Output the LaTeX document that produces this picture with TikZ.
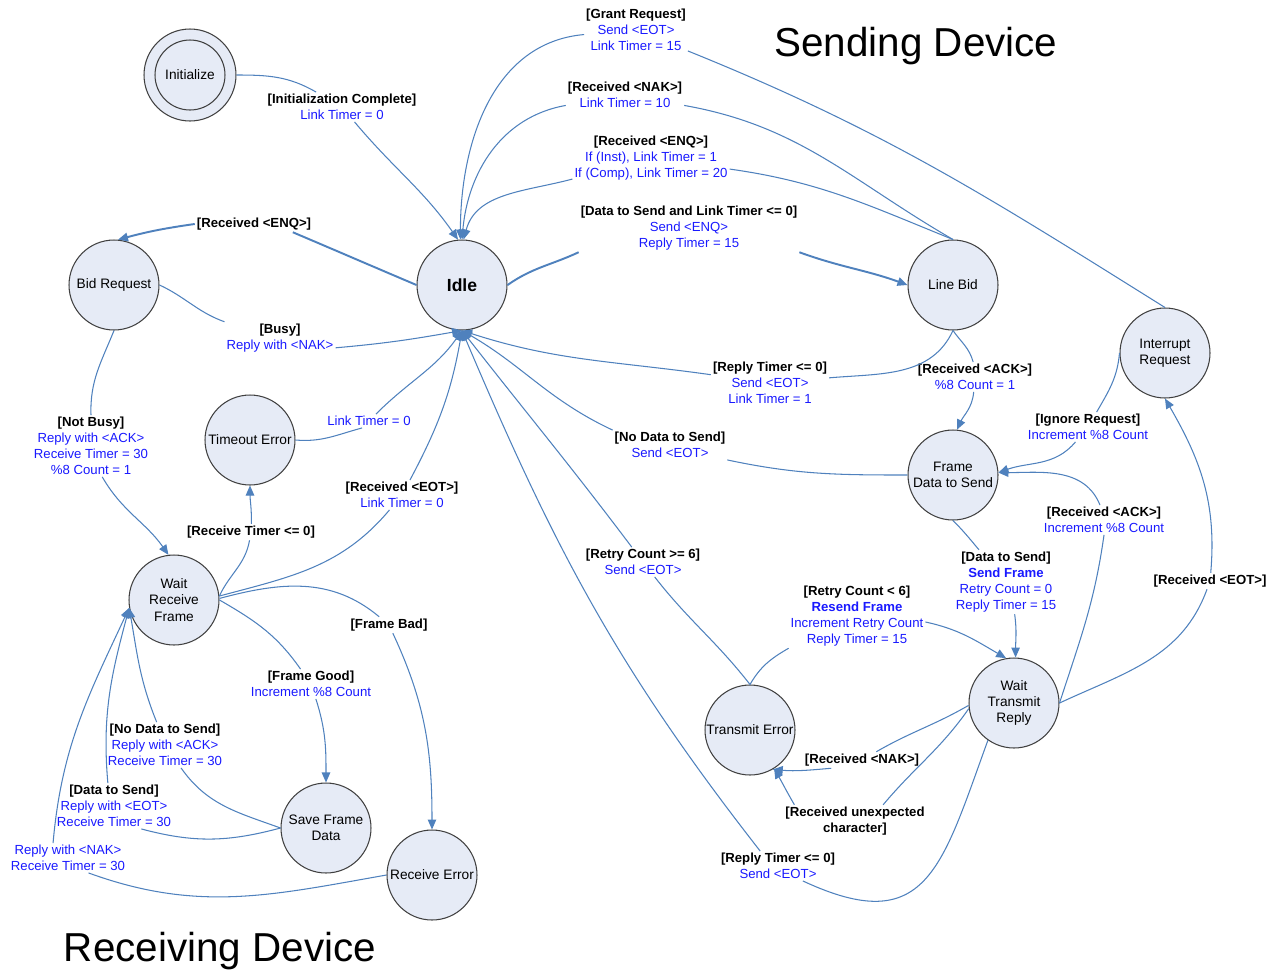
\documentclass[tikz,border=0pt]{standalone}
\usepackage{fontspec}
\setmainfont{Liberation Sans}
\usetikzlibrary{arrows.meta}
\definecolor{edgeblue}{RGB}{79,129,189}
\definecolor{actblue}{RGB}{25,25,255}
\definecolor{statefill}{RGB}{230,235,246}
\newcommand{\trg}[1]{\textbf{#1}}
\newcommand{\act}[1]{\textcolor{actblue}{#1}}
\begin{document}
\begin{tikzpicture}[x=0.02cm,y=0.02cm,
 state/.style={circle,draw=black!75,fill=statefill,line width=0.6pt,minimum size=1.8cm,inner sep=0pt,align=center,font=\fontsize{7.8}{9.3}\selectfont},
 lbl/.style={align=center,inner sep=1pt,font=\fontsize{7.5}{9.1}\selectfont},
 conn/.style={draw=edgeblue,line width=0.6pt},
 arr/.style={conn,-{Triangle[length=2mm,width=1.7mm]}},
 heavy/.style={line width=1.1pt}]
\useasboundingbox (0,0) rectangle (1281,-971);
\node[font=\fontsize{23}{26}\selectfont] (tSend) at (916,-46) {Sending Device};
\node[font=\fontsize{23}{26}\selectfont] (tRecv) at (220,-951) {Receiving Device};
\node[state,minimum size=1.84cm] (init) at (190,-75) {Initialize};
\draw[draw=black!75,line width=0.6pt] (init.center) circle (0.7cm);
\node[state,font=\fontsize{10}{12}\selectfont\bfseries] (idle) at (462,-285) {Idle};
\node[state] (bid) at (114,-285) {Bid Request};
\node[state] (linebid) at (953,-285) {Line Bid};
\node[state] (intr) at (1165,-353) {Interrupt\\Request};
\node[state] (fds) at (953,-475) {Frame\\Data to Send};
\node[state] (tmo) at (250,-440) {Timeout Error};
\node[state] (wrf) at (174,-600) {Wait\\Receive\\Frame};
\node[state] (sfd) at (326,-828) {Save Frame\\Data};
\node[state] (rerr) at (432,-875) {Receive Error};
\node[state] (terr) at (750,-730) {Transmit Error};
\node[state] (wtr) at (1014,-703) {Wait\\Transmit\\Reply};
\node[lbl] (lInit) at (342,-107) {\trg{[Initialization Complete]}\\\act{Link Timer = 0}};
\node[lbl] (lGrant) at (636,-30) {\trg{[Grant Request]}\\\act{Send <EOT>}\\\act{Link Timer = 15}};
\node[lbl] (lNak) at (625,-95) {\trg{[Received <NAK>]}\\\act{Link Timer = 10}};
\node[lbl] (lEnq) at (651,-158) {\trg{[Received <ENQ>]}\\\act{If (Inst), Link Timer = 1}\\\act{If (Comp), Link Timer = 20}};
\node[lbl] (lDts) at (689,-228) {\trg{[Data to Send and Link Timer <= 0]}\\\act{Send <ENQ>}\\\act{Reply Timer = 15}};
\node[lbl] (lBenq) at (254,-224) {\trg{[Received <ENQ>]}};
\node[lbl] (lBusy) at (280,-338) {\trg{[Busy]}\\\act{Reply with <NAK>}};
\node[lbl] (lNbusy) at (91,-446) {\trg{[Not Busy]}\\\act{Reply with <ACK>}\\\act{Receive Timer = 30}\\\act{\%8 Count = 1}};
\node[lbl] (lLt0) at (369,-421) {\act{Link Timer = 0}};
\node[lbl] (lRto) at (251,-532) {\trg{[Receive Timer <= 0]}};
\node[lbl] (lReot) at (402,-495) {\trg{[Received <EOT>]}\\\act{Link Timer = 0}};
\node[lbl] (lFg) at (311,-684) {\trg{[Frame Good]}\\\act{Increment \%8 Count}};
\node[lbl] (lFb) at (389,-625) {\trg{[Frame Bad]}};
\node[lbl] (lNds) at (165,-745) {\trg{[No Data to Send]}\\\act{Reply with <ACK>}\\\act{Receive Timer = 30}};
\node[lbl] (lDs) at (114,-806) {\trg{[Data to Send]}\\\act{Reply with <EOT>}\\\act{Receive Timer = 30}};
\node[lbl] (lNakr) at (68,-858) {\act{Reply with <NAK>}\\\act{Receive Timer = 30}};
\node[lbl] (lRt0) at (770,-383) {\trg{[Reply Timer <= 0]}\\\act{Send <EOT>}\\\act{Link Timer = 1}};
\node[lbl] (lAck) at (975,-377) {\trg{[Received <ACK>]}\\\act{\%8 Count = 1}};
\node[lbl] (lNdts) at (670,-445) {\trg{[No Data to Send]}\\\act{Send <EOT>}};
\node[lbl] (lIgn) at (1088,-427) {\trg{[Ignore Request]}\\\act{Increment \%8 Count}};
\node[lbl] (lAck2) at (1104,-520) {\trg{[Received <ACK>]}\\\act{Increment \%8 Count}};
\node[lbl] (lEot) at (1210,-581) {\trg{[Received <EOT>]}};
\node[lbl] (lSend) at (1006,-582) {\trg{[Data to Send]}\\\act{\textbf{Send Frame}}\\\act{Retry Count = 0}\\\act{Reply Timer = 15}};
\node[lbl] (lRetry) at (857,-616) {\trg{[Retry Count < 6]}\\\act{\textbf{Resend Frame}}\\\act{Increment Retry Count}\\\act{Reply Timer = 15}};
\node[lbl] (lRc6) at (643,-562) {\trg{[Retry Count >= 6]}\\\act{Send <EOT>}};
\node[lbl] (lRnak) at (862,-760) {\trg{[Received <NAK>]}};
\node[lbl] (lUnexp) at (855,-821) {\trg{[Received unexpected}\\\trg{character]}};
\node[lbl] (lRt0b) at (778,-866) {\trg{[Reply Timer <= 0]}\\\act{Send <EOT>}};
\draw[conn] (init) to[out=0,in=150] (lInit);
\draw[arr] (lInit) to[out=-50,in=125] (idle.95);
\draw[conn] (intr.north) to[out=148,in=-22] (lGrant);
\draw[arr] (lGrant) to[out=185,in=90] (idle.92);
\draw[conn] (linebid.north) to[out=150,in=-10] (lNak);
\draw[arr] (lNak) to[out=190,in=85] (idle.90);
\draw[conn] (linebid.north) to[out=158,in=-8] (lEnq);
\draw[arr] (lEnq) to[out=195,in=75] (idle.88);
\draw[conn,heavy] (idle.east) to[out=35,in=205] (lDts.south west);
\draw[arr,heavy] (lDts.south east) to[out=-20,in=160] (linebid.west);
\draw[conn,heavy] (idle.west) to[out=157,in=-23] (lBenq.-12);
\draw[arr,heavy] (lBenq.west) to[out=188,in=15] (bid.85);
\draw[conn] (bid.east) to[out=-25,in=160] (lBusy.north west);
\draw[arr] (lBusy.-10) to[out=5,in=190] (idle.south);
\draw[conn] (bid.south) to[out=-112,in=92] (lNbusy.north);
\draw[arr] (lNbusy.-70) to[out=-60,in=125] (wrf.97);
\draw[conn] (tmo.east) to[out=-5,in=195] (lLt0.-135);
\draw[arr] (lLt0.45) to[out=45,in=235] (idle.south);
\draw[conn] (wrf.5) to[out=65,in=-100] (lRto);
\draw[arr] (lRto) to[out=88,in=-90] (tmo.south);
\draw[conn] (wrf.5) to[out=15,in=-130] (lReot);
\draw[arr] (lReot) to[out=62,in=-100] (idle.south);
\draw[conn] (wrf.0) to[out=-30,in=125] (lFg);
\draw[arr] (lFg) to[out=-72,in=90] (sfd.north);
\draw[conn] (wrf.2) to[out=15,in=140] (lFb);
\draw[arr] (lFb) to[out=-65,in=90] (rerr.north);
\draw[conn] (sfd.west) to[out=160,in=-55] (lNds.-55);
\draw[arr] (lNds.110) to[out=112,in=-80] (wrf.190);
\draw[conn] (sfd.west) to[out=195,in=-15] (lDs.-40);
\draw[arr] (lDs.105) to[out=95,in=-105] (wrf.190);
\draw[conn] (rerr.west) to[out=190,in=-20] (lNakr.-36);
\draw[arr] (lNakr.135) to[out=85,in=-115] (wrf.190);
\draw[conn] (linebid.south) to[out=-115,in=5] (lRt0);
\draw[arr] (lRt0) to[out=172,in=-18] (idle.south);
\draw[conn] (linebid.south) to[out=-55,in=105] (lAck.97);
\draw[arr] (lAck.-95) to[out=-95,in=65] (fds.85);
\draw[conn] (fds.west) to[out=180,in=-12] (lNdts.south east);
\draw[arr] (lNdts.north west) to[out=155,in=-30] (idle.south);
\draw[conn] (intr.west) to[out=-95,in=60] (lIgn);
\draw[arr] (lIgn.-130) to[out=-130,in=20] (fds.3);
\draw[conn] (wtr.east) to[out=72,in=-98] (lAck2.south);
\draw[arr] (lAck2.105) to[out=112,in=0] (fds.3);
\draw[conn] (wtr.east) to[out=25,in=-110] (lEot);
\draw[arr] (lEot) to[out=85,in=-60] (intr.south);
\draw[conn] (fds.south) to[out=-45,in=130] (lSend);
\draw[arr] (lSend.-75) to[out=-82,in=90] (wtr.88);
\draw[conn] (terr.north) to[out=60,in=-150] (lRetry.south west);
\draw[arr] (lRetry.-5) to[out=-12,in=150] (wtr.100);
\draw[conn] (terr.north) to[out=128,in=-52] (lRc6);
\draw[arr] (lRc6.127) to[out=127,in=-52] (idle.south);
\draw[conn] (wtr.183) to[out=-150,in=30] (lRnak.30);
\draw[arr] (lRnak.-165) to[out=185,in=-5] (terr.-60);
\draw[conn] (wtr.187) to[out=-125,in=50] (lUnexp.30);
\draw[arr] (lUnexp.165) to[out=120,in=-60] (terr.-58);
\draw[conn] (wtr.235) to[out=-110,in=-25,looseness=1.5] (lRt0b.-31);
\draw[arr] (lRt0b.140) to[out=128,in=-67] (idle.south);
\end{tikzpicture}
\end{document}
